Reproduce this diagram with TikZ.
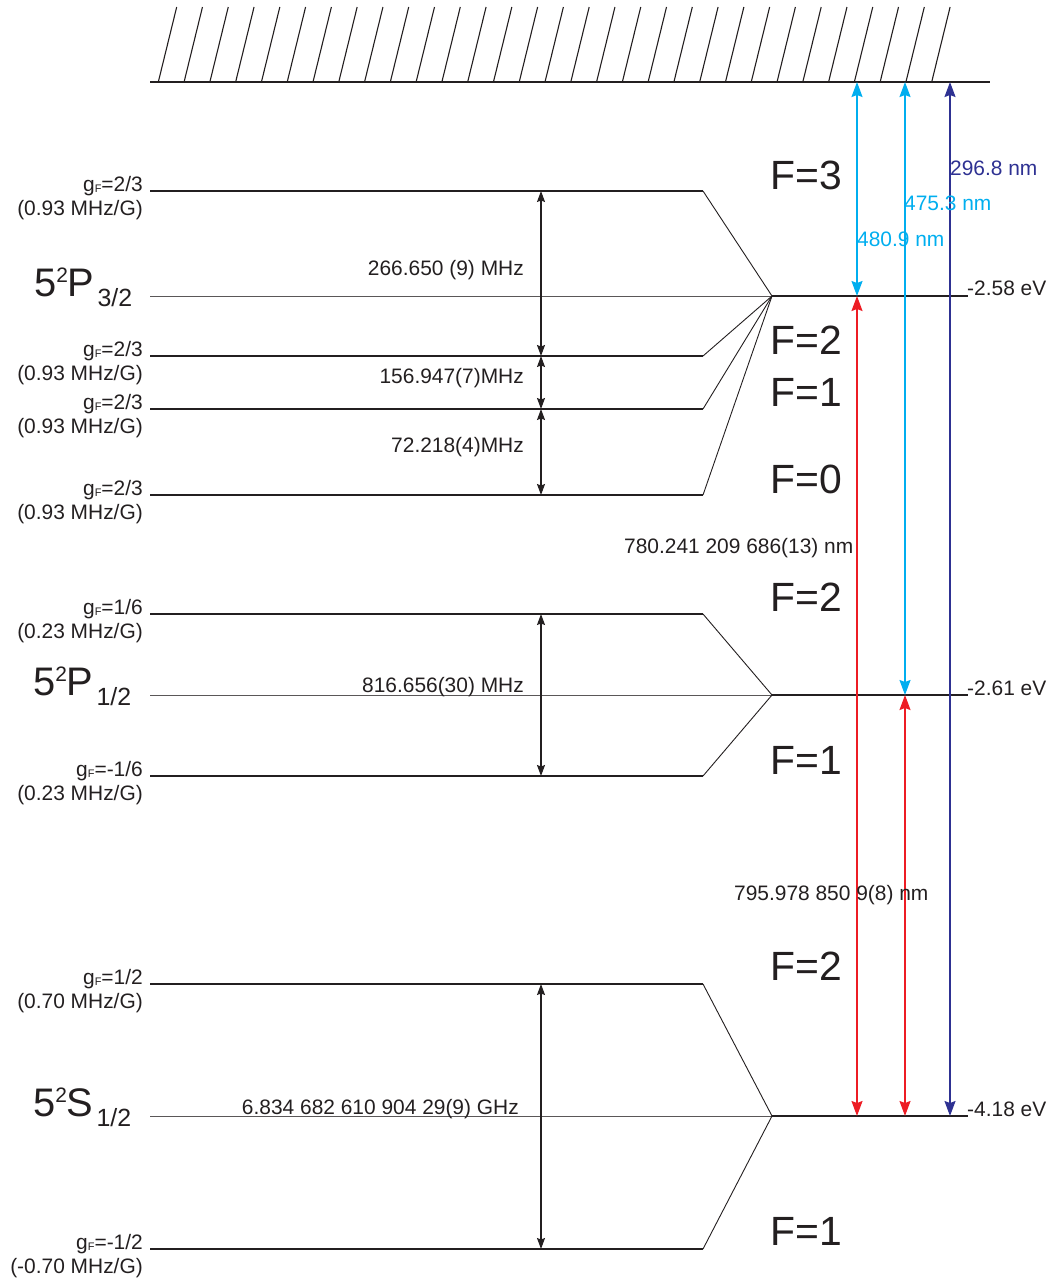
\documentclass[tikz,border=0pt]{standalone}
\usepackage{fontspec}
\setmainfont{Liberation Sans}
\usetikzlibrary{arrows.meta}
\definecolor{ink}{HTML}{231F20}
\definecolor{cyanA}{HTML}{00AEEF}
\definecolor{redA}{HTML}{ED1C24}
\definecolor{navyA}{HTML}{2E3192}
\tikzset{
  lvl/.style={line width=1.2bp, draw=ink},
  midl/.style={line width=0.8bp, draw=ink!75},
  rmid/.style={line width=1.6bp, draw=ink},
  fan/.style={line width=0.9bp, draw=ink},
  hatchln/.style={line width=1.1bp, draw=ink},
  dimarr/.style={line width=1.1bp, draw=ink, {Stealth[length=11bp,width=8bp,inset=1.5bp]}-{Stealth[length=11bp,width=8bp,inset=1.5bp]}},
  trans/.style={line width=1.5bp, {Stealth[length=15bp,width=11bp,inset=2bp]}-{Stealth[length=15bp,width=11bp,inset=2bp]}},
  small/.style={font=\fontsize{21}{22}\selectfont, inner sep=0pt, text=ink},
  flab/.style={font=\fontsize{41}{41}\selectfont, inner sep=0pt, text=ink, anchor=base west},
  termlab/.style={inner sep=0pt, text=ink, anchor=base west},
}
\newcommand\gfpair[4]{%
  \node[small,anchor=base east] (#1a) at (143,#2) {g\raisebox{-1bp}{\fontsize{11}{11}\selectfont F}=#3};
  \node[small,anchor=base east] (#1b) at (143,{#2+24}) {#4};
}
\newcommand\termtxt[3]{{\fontsize{40}{40}\selectfont #1\raisebox{14bp}{\fontsize{21}{21}\selectfont 2}#2\kern3bp\raisebox{-10bp}{\fontsize{25}{25}\selectfont #3}}}
\begin{document}
\begin{tikzpicture}[x=1bp,y=-1bp]
\useasboundingbox (0,0) rectangle (1055,1283);

% continuum with hatching
\coordinate (contL) at (150,82);
\coordinate (contR) at (990,82);
\foreach \i in {0,...,30}
  \draw[hatchln] ({158.3+25.78*\i},82) -- ++(18.4,-75);
\draw[line width=1.6bp, draw=ink] (contL) -- (contR);

% fine-structure centres
\coordinate (p3c) at (772,296);
\coordinate (p1c) at (772,695);
\coordinate (s1c) at (772,1116);
\coordinate (p3L) at (150,296);
\coordinate (p1L) at (150,695);
\coordinate (s1L) at (150,1116);
\coordinate (p3R) at (968,296);
\coordinate (p1R) at (968,695);
\coordinate (s1R) at (968,1116);
\draw[midl] (p3L) -- (p3c);
\draw[midl] (p1L) -- (p1c);
\draw[midl] (s1L) -- (s1c);
\draw[rmid] (p3c) -- (p3R);
\draw[rmid] (p1c) -- (p1R);
\draw[rmid] (s1c) -- (s1R);

% hyperfine levels
\foreach \n/\y/\c in {pA/191/p3c, pB/356/p3c, pC/409/p3c, pD/495/p3c,
                      qA/614/p1c, qB/776/p1c, sA/984/s1c, sB/1249/s1c}{
  \coordinate (\n L) at (150,\y);
  \coordinate (\n K) at (703,\y);
  \draw[lvl] (\n L) -- (\n K);
  \draw[fan] (\n K) -- (\c);
}

% g_F labels
\gfpair{gpA}{191}{2/3}{(0.93 MHz/G)}
\gfpair{gpB}{356}{2/3}{(0.93 MHz/G)}
\gfpair{gpC}{409}{2/3}{(0.93 MHz/G)}
\gfpair{gpD}{495}{2/3}{(0.93 MHz/G)}
\gfpair{gqA}{614}{1/6}{(0.23 MHz/G)}
\gfpair{gqB}{776}{-1/6}{(0.23 MHz/G)}
\gfpair{gsA}{984}{1/2}{(0.70 MHz/G)}
\gfpair{gsB}{1249}{-1/2}{(-0.70 MHz/G)}

% term labels
\node[termlab] (tP3) at (34,296) {\termtxt{5}{P}{3/2}};
\node[termlab] (tP1) at (33,695) {\termtxt{5}{P}{1/2}};
\node[termlab] (tS1) at (33,1116) {\termtxt{5}{S}{1/2}};

% F labels
\node[flab] (fpA) at (770,189) {F=3};
\node[flab] (fpB) at (770,354) {F=2};
\node[flab] (fpC) at (770,406) {F=1};
\node[flab] (fpD) at (770,493) {F=0};
\node[flab] (fqA) at (770,611) {F=2};
\node[flab] (fqB) at (770,774) {F=1};
\node[flab] (fsA) at (770,980) {F=2};
\node[flab] (fsB) at (770,1245) {F=1};

% hyperfine splittings
\coordinate (dimx) at (541,0);
\draw[dimarr] (dimx |- pAL) -- (dimx |- pBL);
\draw[dimarr] (dimx |- pBL) -- (dimx |- pCL);
\draw[dimarr] (dimx |- pCL) -- (dimx |- pDL);
\draw[dimarr] (dimx |- qAL) -- (dimx |- qBL);
\draw[dimarr] (dimx |- sAL) -- (dimx |- sBL);
\node[small,anchor=base east] (hA) at (524,275.5) {266.650 (9) MHz};
\node[small,anchor=base east] (hB) at (524,383.5) {156.947(7)MHz};
\node[small,anchor=base east] (hC) at (524,452.5) {72.218(4)MHz};
\node[small,anchor=base east] (hD) at (524,692.5) {816.656(30) MHz};
\node[small,anchor=base east] (hE) at (519,1114) {6.834 682 610 904 29(9) GHz};

% energies
\node[small,anchor=base west] (eA) at (967,295) {-2.58 eV};
\node[small,anchor=base west] (eB) at (967,695) {-2.61 eV};
\node[small,anchor=base west] (eC) at (967,1116) {-4.18 eV};

% optical transitions
\coordinate (xa) at (857,0);
\coordinate (xb) at (905,0);
\coordinate (xc) at (950,0);
\draw[trans, cyanA] (xa |- contL) -- (xa |- p3c);
\draw[trans, cyanA] (xb |- contL) -- (xb |- p1c);
\draw[trans, navyA] (xc |- contL) -- (xc |- s1c);
\draw[trans, redA] (xa |- p3c) -- (xa |- s1c);
\draw[trans, redA] (xb |- p1c) -- (xb |- s1c);

\node[small,anchor=base west,text=navyA] (wA) at (950,175.5) {296.8 nm};
\node[small,anchor=base west,text=cyanA] (wB) at (904,210.5) {475.3 nm};
\node[small,anchor=base west,text=cyanA] (wC) at (857,246) {480.9 nm};
\node[small,anchor=base west] (wD) at (624,553) {780.241 209 686(13) nm};
\node[small,anchor=base west] (wE) at (734,900.5) {795.978 850 9(8) nm};
\end{tikzpicture}
\end{document}
